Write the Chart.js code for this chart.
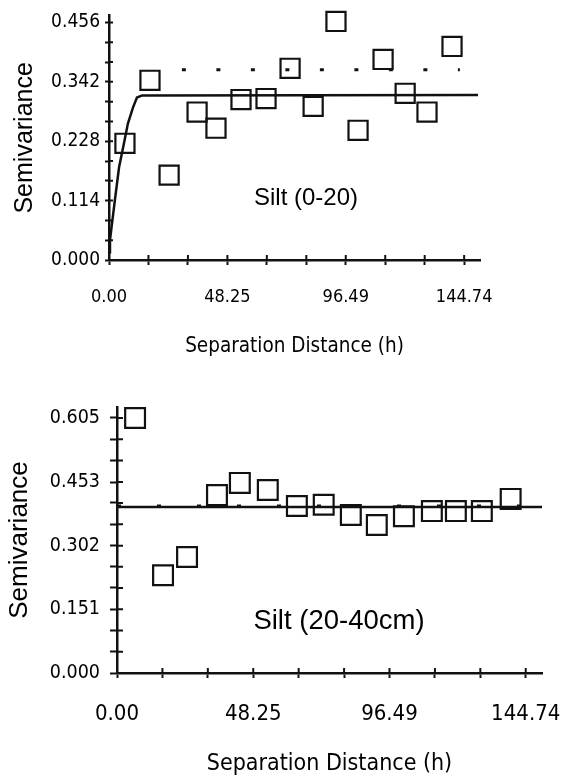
<!DOCTYPE html>
<html>
<head>
<meta charset="utf-8">
<script src="https://cdn.jsdelivr.net/npm/chart.js@4.4.1/dist/chart.umd.min.js"></script>
<style>
  html, body { margin: 0; padding: 0; background: #fff; }
  body { width: 571px; height: 778px; position: relative; overflow: hidden; }
  .panel { position: absolute; left: 0; width: 571px; }
  #topPanel { top: 0; height: 380px; }
  #bottomPanel { top: 390px; height: 388px; }
</style>
</head>
<body>
<div class="panel" id="topPanel"><canvas id="siltTop"></canvas></div>
<div class="panel" id="bottomPanel"><canvas id="siltBottom"></canvas></div>
<script>
// lag axis, same for both panels
const lagTicks = [0, 16.08, 32.17, 48.25, 64.33, 80.41, 96.49, 112.58, 128.66, 144.74];
const lagLabels = ['0.00', '', '', '48.25', '', '', '96.49', '', '', '144.74'];

// Silt (0-20)
const topLag = [6.5, 16.7, 24.5, 35.9, 43.6, 53.8, 64.0, 73.8, 83.2, 92.5, 101.5, 111.7, 120.7, 129.6, 139.8];
const topGamma = [0.224, 0.345, 0.163, 0.284, 0.253, 0.308, 0.310, 0.368, 0.295, 0.458, 0.249, 0.385, 0.320, 0.284, 0.410];
const topModelLag = [0, 0.4, 2.4, 4.1, 6.1, 7.7, 9.8, 11.4, 13.5, 150.4];
const topModelGamma = [0.015, 0.038, 0.115, 0.178, 0.224, 0.262, 0.293, 0.312, 0.316, 0.317];
const topVarLag = [29.7, 143];
const topVarGamma = [0.365, 0.365];
const topYTicks = [0, 0.038, 0.076, 0.114, 0.152, 0.190, 0.228, 0.266, 0.304, 0.342, 0.380, 0.418, 0.456];
const topYLabels = ['0.000', '', '', '0.114', '', '', '0.228', '', '', '0.342', '', '', '0.456'];

// Silt (20-40cm)
const bottomLag = [6.4, 16.3, 24.8, 35.4, 43.5, 53.4, 63.7, 73.2, 82.8, 92.0, 101.6, 111.5, 120.0, 129.2, 139.4];
const bottomGamma = [0.605, 0.232, 0.275, 0.422, 0.451, 0.434, 0.396, 0.399, 0.375, 0.351, 0.372, 0.384, 0.384, 0.384, 0.413];
const bottomModelLag = [0, 150.5];
const bottomModelGamma = [0.394, 0.394];
const bottomVarLag = [0, 150];
const bottomVarGamma = [0.396, 0.396];
const bottomYTicks = [0, 0.0504, 0.1008, 0.151, 0.2017, 0.2521, 0.302, 0.3529, 0.4033, 0.453, 0.5042, 0.5546, 0.605];
const bottomYLabels = ['0.000', '', '', '0.151', '', '', '0.302', '', '', '0.453', '', '', '0.605'];

Chart.defaults.font.family = "'DejaVu Sans Condensed', 'Liberation Sans', sans-serif";
Chart.defaults.color = '#000';

function toXY(xs, ys) {
    return xs.map((x, i) => ({ x: x, y: ys[i] }));
}

// tick marks that cross the axis line
const innerTicks = {
    id: 'innerTicks',
    afterDraw(chart, args, opts) {
        const ctx = chart.ctx;
        const xs = chart.scales.x, ys = chart.scales.y;
        ctx.save();
        ctx.strokeStyle = '#111';
        ctx.lineWidth = 2;
        ctx.beginPath();
        xs.ticks.forEach((t, i) => {
            const px = xs.getPixelForTick(i);
            ctx.moveTo(px, xs.top);
            ctx.lineTo(px, xs.top - opts.x);
        });
        ys.ticks.forEach((t, i) => {
            const py = ys.getPixelForTick(i);
            ctx.moveTo(ys.right, py);
            ctx.lineTo(ys.right + opts.y, py);
        });
        ctx.stroke();
        ctx.restore();
    }
};

// panel caption placed in data space
const panelLabel = {
    id: 'panelLabel',
    afterDatasetsDraw(chart, args, opts) {
        const { ctx, scales: { x, y } } = chart;
        ctx.save();
        ctx.font = opts.font;
        ctx.fillStyle = '#000';
        ctx.textAlign = 'center';
        ctx.textBaseline = 'middle';
        ctx.fillText(opts.text, x.getPixelForValue(opts.x), y.getPixelForValue(opts.y));
        ctx.restore();
    }
};

function makePanel(id, p) {
    const ctx = document.getElementById(id).getContext('2d');
    return new Chart(ctx, {
        type: 'scatter',
        data: {
            datasets: [
                {
                    data: toXY(p.modelLag, p.modelGamma),
                    showLine: true,
                    borderColor: '#111',
                    borderWidth: 2.5,
                    pointRadius: 0,
                    tension: 0
                },
                {
                    data: toXY(p.varLag, p.varGamma),
                    showLine: true,
                    borderColor: '#111',
                    borderWidth: 3,
                    borderDash: p.dash,
                    pointRadius: 0
                },
                {
                    data: toXY(p.lag, p.gamma),
                    pointStyle: 'rect',
                    pointRadius: p.markRadius,
                    pointBorderWidth: 2.2,
                    pointBorderColor: '#111',
                    pointBackgroundColor: 'rgba(255,255,255,0)',
                    clip: false
                }
            ]
        },
        options: {
            responsive: true,
            maintainAspectRatio: false,
            animation: false,
            layout: { padding: { left: 0, top: p.areaTop, right: 571 - p.areaRight, bottom: 0 } },
            plugins: {
                legend: { display: false },
                tooltip: { enabled: false },
                innerTicks: { x: 5, y: p.yIn },
                panelLabel: p.label
            },
            scales: {
                x: {
                    type: 'linear',
                    min: 0,
                    max: p.xMax,
                    bounds: 'data',
                    border: { color: '#111', width: 2.5 },
                    grid: { drawOnChartArea: false, tickLength: 5, tickWidth: 2, tickColor: '#111' },
                    afterBuildTicks: s => { s.ticks = lagTicks.map(v => ({ value: v })); },
                    afterFit: s => {
                        s.height = p.xHeight;
                        s.paddingLeft = 0; s.paddingRight = 0;
                    },
                    ticks: {
                        autoSkip: false,
                        maxRotation: 0,
                        padding: p.xPad,
                        font: { size: p.xFont },
                        callback: (v, i) => lagLabels[i]
                    },
                    title: {
                        display: true,
                        text: 'Separation Distance (h)',
                        font: { size: p.xTitleFont, lineHeight: 1 },
                        padding: { top: 0, bottom: p.xTitlePad }
                    }
                },
                y: {
                    type: 'linear',
                    min: 0,
                    max: p.yMax,
                    bounds: 'data',
                    border: { color: '#111', width: 2.5 },
                    grid: { drawOnChartArea: false, tickLength: p.yOut, tickWidth: 2, tickColor: '#111' },
                    afterBuildTicks: s => { s.ticks = p.yTicks.map(v => ({ value: v })); },
                    afterFit: s => {
                        s.width = p.yWidth;
                        s.paddingTop = 0; s.paddingBottom = 0;
                    },
                    ticks: {
                        autoSkip: false,
                        padding: p.yPad,
                        font: { size: p.yFont },
                        callback: (v, i) => p.yLabels[i]
                    },
                    title: {
                        display: true,
                        text: 'Semivariance',
                        font: { family: "'Liberation Sans', Arial, sans-serif", size: p.yTitleFont, lineHeight: 1 },
                        padding: { top: p.yTitlePad, bottom: 0 }
                    }
                }
            }
        },
        plugins: [innerTicks, panelLabel]
    });
}

makePanel('siltTop', {
    lag: topLag, gamma: topGamma,
    modelLag: topModelLag, modelGamma: topModelGamma,
    varLag: topVarLag, varGamma: topVarGamma, dash: [4, 30.5],
    yTicks: topYTicks, yLabels: topYLabels,
    markRadius: 13.5,
    xMax: 151.2, yMax: 0.469,
    areaTop: 15, areaRight: 480,
    xHeight: 120, xPad: 22, xFont: 18, xTitleFont: 20.5, xTitlePad: 23,
    yWidth: 109, yOut: 4, yIn: 4, yPad: 5, yFont: 19, yTitleFont: 25, yTitlePad: 13,
    label: { text: 'Silt (0-20)', x: 80.3, y: 0.119, font: "24px 'Liberation Sans', Arial, sans-serif" }
});

makePanel('siltBottom', {
    lag: bottomLag, gamma: bottomGamma,
    modelLag: bottomModelLag, modelGamma: bottomModelGamma,
    varLag: bottomVarLag, varGamma: bottomVarGamma, dash: [4, 36],
    yTicks: bottomYTicks, yLabels: bottomYLabels,
    markRadius: 14,
    xMax: 150.5, yMax: 0.631,
    areaTop: 17, areaRight: 542,
    xHeight: 105, xPad: 23, xFont: 22, xTitleFont: 23, xTitlePad: 2,
    yWidth: 117, yOut: 7, yIn: 6, yPad: 10, yFont: 19.5, yTitleFont: 26, yTitlePad: 7,
    label: { text: 'Silt (20-40cm)', x: 78.6, y: 0.123, font: "27.5px 'Liberation Sans', Arial, sans-serif" }
});
</script>
</body>
</html>
